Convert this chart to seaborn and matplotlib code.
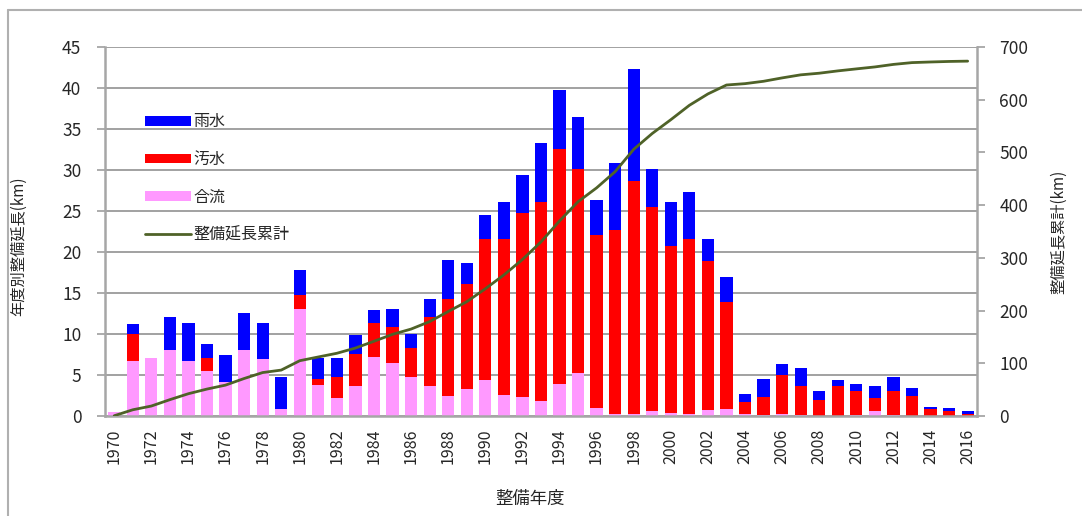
import numpy as np
import pandas as pd
import matplotlib
matplotlib.use("Agg")
import matplotlib.pyplot as plt
import seaborn as sns
from matplotlib.lines import Line2D
from matplotlib.patches import Patch

sns.set_style("white")
plt.rcParams["font.family"] = ["Noto Sans CJK JP", "DejaVu Sans"]

# 整備年度
years = list(range(1970, 2017))

# 合流 (km)
gouryu = [0.5, 6.7, 7.1, 8.0, 6.7, 5.5, 4.2, 8.0, 6.9, 0.8,
          13.0, 3.8, 2.15, 3.7, 7.25, 6.45, 4.7, 3.6, 2.45, 3.3,
          4.4, 2.55, 2.3, 1.85, 3.9, 5.2, 1.0, 0.2, 0.2, 0.6,
          0.4, 0.2, 0.75, 0.8, 0.2, 0.1, 0.3, 0.1, 0.0, 0.0,
          0.1, 0.6, 0.1, 0.0, 0.0, 0.0, 0.0]

# 汚水 (km)
osui = [0.0, 3.3, 0.0, 0.0, 0.0, 1.55, 0.0, 0.0, 0.0, 0.0,
        1.7, 0.7, 2.55, 3.9, 4.15, 4.4, 3.65, 8.45, 11.8, 12.8,
        17.2, 19.05, 22.5, 24.25, 28.7, 24.9, 21.05, 22.45, 28.45, 24.9,
        20.3, 21.4, 18.1, 13.15, 1.55, 2.25, 4.7, 3.55, 1.95, 3.65,
        2.9, 1.55, 2.9, 2.45, 0.8, 0.6, 0.3]

# 雨水 (km)
usui = [0.0, 1.25, 0.0, 4.1, 4.6, 1.75, 3.3, 4.55, 4.4, 3.9,
        3.1, 2.55, 2.35, 2.25, 1.5, 2.25, 1.65, 2.2, 4.8, 2.55,
        2.9, 4.55, 4.55, 7.25, 7.2, 6.4, 4.25, 8.15, 13.65, 4.6,
        5.4, 5.7, 2.75, 2.95, 0.9, 2.15, 1.35, 2.2, 1.1, 0.75,
        0.85, 1.5, 1.8, 1.0, 0.35, 0.4, 0.3]

# 整備延長累計 (km)
cumulative = [0.5, 11.8, 18.9, 31.0, 42.3, 51.1, 58.6, 71.1, 82.4, 87.1,
              104.9, 112.0, 119.0, 128.9, 141.8, 154.9, 164.9, 179.1, 198.2, 216.8,
              241.3, 267.5, 296.8, 330.2, 370.0, 406.5, 432.8, 463.6, 505.9, 536.0,
              562.1, 589.4, 611.0, 627.9, 630.5, 635.0, 641.4, 647.2, 650.3, 654.7,
              658.5, 662.2, 667.0, 670.4, 671.6, 672.6, 673.2]

df = pd.DataFrame({"year": [str(y) for y in years],
                   "gouryu": gouryu, "osui": osui, "usui": usui})
df["osui_top"] = df["gouryu"] + df["osui"]
df["usui_top"] = df["osui_top"] + df["usui"]

blue = "#0000FF"
red = "#FF0000"
pink = "#FF99FF"
olive = "#4F6228"
gray = "#a6a6a6"
txt = "#262626"

fig = plt.figure(figsize=(10.82, 5.16), dpi=100)
ax = fig.add_axes([0.0970, 0.1938, 0.8059, 0.7151])

# stacked bars drawn as layered totals
sns.barplot(data=df, x="year", y="usui_top", color=blue, saturation=1, width=0.66, linewidth=0, ax=ax)
sns.barplot(data=df, x="year", y="osui_top", color=red, saturation=1, width=0.66, linewidth=0, ax=ax)
sns.barplot(data=df, x="year", y="gouryu", color=pink, saturation=1, width=0.66, linewidth=0, ax=ax)

ax.set_ylim(0, 45)
ax.set_yticks(range(0, 46, 5))
ax.set_xlim(-0.5, len(years) - 0.5)
ax.yaxis.grid(True, color="#9a9a9a", linewidth=1.3)
ax.set_axisbelow(True)

# labels every 2 years, tick marks between categories
ax.set_xticks(range(0, len(years), 2))
ax.set_xticklabels([str(y) for y in years[::2]], rotation=90)
ax.set_xticks(np.arange(-0.5, len(years), 1), minor=True)
ax.tick_params(axis="x", which="major", length=0, pad=9, labelsize=11.5, labelcolor=txt)
ax.tick_params(axis="x", which="minor", length=6, width=1.3, color=gray)
ax.tick_params(axis="y", length=6, width=1.3, color=gray, pad=11, labelsize=12.5, labelcolor=txt, left=True)

for side in ["top", "right"]:
    ax.spines[side].set_visible(False)
for side in ["left", "bottom"]:
    ax.spines[side].set_color(gray)
    ax.spines[side].set_linewidth(1.8)

ax.set_xlabel("整備年度", fontsize=12.5, color=txt)
ax.xaxis.set_label_coords(0.487, -0.20)
ax.set_ylabel("年度別整備延長(km)", fontsize=11, color=txt)
ax.yaxis.set_label_coords(-0.089, 0.46)

# cumulative line on right axis
ax2 = ax.twinx()
sns.lineplot(x=np.arange(len(years)), y=cumulative, color=olive, linewidth=2, ax=ax2)
ax2.set_ylim(0, 700)
ax2.set_yticks(range(0, 701, 100))
ax2.set_xlim(-0.5, len(years) - 0.5)
ax2.grid(False)
ax2.tick_params(axis="y", length=6, width=1.3, color=gray, pad=10, labelsize=12.5, labelcolor=txt, right=True)
for side in ["top", "left", "bottom"]:
    ax2.spines[side].set_visible(False)
ax2.spines["right"].set_color(gray)
ax2.spines["right"].set_linewidth(1.8)
ax2.set_ylabel("整備延長累計(km)", fontsize=11, color=txt, rotation=90)
ax2.yaxis.set_label_coords(1.084, 0.5)

handles = [Patch(facecolor=blue, edgecolor="none"),
           Patch(facecolor=red, edgecolor="none"),
           Patch(facecolor=pink, edgecolor="none"),
           Line2D([], [], color=olive, linewidth=2)]
labels = ["雨水", "汚水", "合流", "整備延長累計"]
ax2.legend(handles, labels, loc="upper left", bbox_to_anchor=(0.046, 0.82),
           frameon=False, fontsize=11.5, handlelength=2.9, handleheight=0.55,
           handletextpad=0.1, labelspacing=1.3, borderpad=0, borderaxespad=0,
           labelcolor=txt)

# outer chart frame
fig.add_artist(Line2D([7.5 / 1082, 1], [1 - 10 / 516, 1 - 10 / 516],
                      transform=fig.transFigure, color="#b0b0b0", linewidth=1.5))
fig.add_artist(Line2D([7.5 / 1082, 7.5 / 1082], [0, 1 - 10 / 516],
                      transform=fig.transFigure, color="#b0b0b0", linewidth=1.5))

fig.savefig("out.png", dpi=100)
